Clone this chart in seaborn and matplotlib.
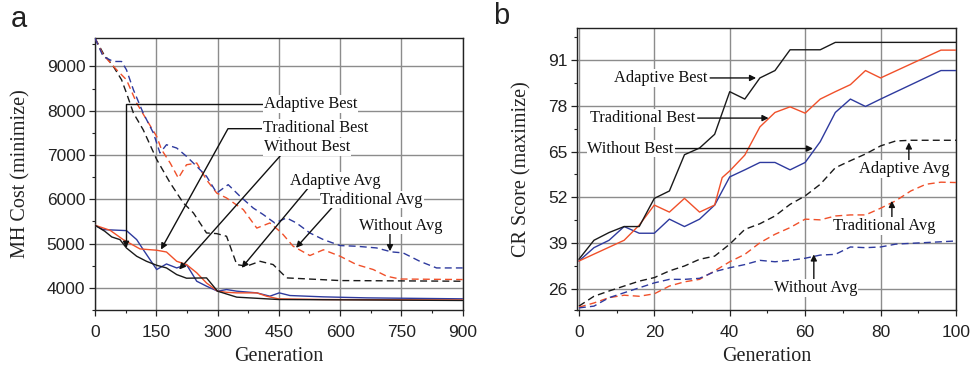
import numpy as np
import pandas as pd
import seaborn as sns
import matplotlib
matplotlib.use("Agg")
import matplotlib.pyplot as plt
from matplotlib.ticker import MultipleLocator, FixedLocator

# ---------------- Panel a data (MH Cost) ----------------
a_ab_gen = [0, 24, 41, 61, 77, 102, 126, 151, 175, 200, 224, 273, 300, 347, 449, 900]
a_ab_val = [5414, 5278, 5150, 5090, 4900, 4714, 4600, 4510, 4450, 4300, 4218, 4225, 3925, 3790, 3737, 3715]

a_tb_gen = [0, 37, 69, 110, 151, 175, 200, 224, 249, 273, 300, 322, 347, 396, 420, 449, 559, 900]
a_tb_val = [5414, 5300, 5090, 4880, 4850, 4810, 4600, 4526, 4340, 4110, 3925, 3900, 3887, 3887, 3812, 3752, 3737, 3725]

a_wb_gen = [0, 20, 77, 102, 118, 151, 175, 200, 224, 249, 273, 300, 322, 347, 396, 428, 451, 477, 559, 665, 900]
a_wb_val = [5414, 5316, 5293, 5090, 4865, 4414, 4540, 4450, 4526, 4150, 4038, 3925, 3962, 3925, 3887, 3812, 3887, 3827, 3797, 3774, 3752]

a_aa_gen = [0, 20, 45, 65, 77, 94, 118, 151, 184, 216, 241, 273, 298, 322, 347, 371, 404, 436, 469, 600, 900]
a_aa_val = [9639, 9300, 9000, 8700, 8400, 7950, 7570, 6900, 6370, 5920, 5690, 5240, 5225, 5165, 4526, 4490, 4600, 4526, 4225, 4165, 4150]

a_ta_gen = [0, 20, 53, 77, 102, 126, 151, 163, 184, 204, 224, 249, 273, 298, 322, 363, 396, 428, 457, 485, 526, 559, 600, 640, 681, 714, 746, 900]
a_ta_val = [9639, 9263, 8925, 8700, 8173, 7800, 7420, 7120, 6820, 6480, 6780, 6820, 6440, 6140, 6030, 5767, 5350, 5466, 5240, 4940, 4730, 4860, 4714, 4526, 4414, 4263, 4200, 4188]

a_wa_gen = [0, 20, 45, 65, 77, 94, 118, 143, 159, 175, 200, 224, 249, 273, 298, 326, 355, 387, 412, 440, 469, 493, 526, 559, 600, 640, 689, 726, 754, 795, 836, 900]
a_wa_val = [9639, 9225, 9113, 9113, 8925, 8474, 7947, 7496, 7045, 7233, 7158, 6970, 6744, 6519, 6143, 6331, 6068, 5805, 5654, 5466, 5579, 5466, 5240, 5090, 4955, 4940, 4902, 4812, 4790, 4600, 4450, 4450]

# ---------------- Panel b data (CR Score) ----------------
b_ab_gen = [0, 4, 8, 12, 16, 20, 24, 28, 32, 36, 40, 44, 48, 52, 56, 60, 64, 68, 100]
b_ab_val = [34.4, 39.8, 42.0, 43.7, 43.7, 51.7, 53.8, 64.1, 66.0, 69.9, 82.0, 79.9, 85.9, 88.0, 93.9, 93.9, 93.9, 96.0, 96.0]

b_tb_gen = [0, 12, 16, 20, 24, 28, 32, 36, 38, 40, 44, 48, 52, 56, 60, 64, 68, 72, 76, 80, 96, 100]
b_tb_val = [33.9, 39.8, 44.1, 49.8, 47.8, 51.7, 47.8, 49.8, 57.6, 59.5, 64.0, 72.0, 76.1, 77.7, 75.9, 79.9, 82.0, 84.0, 88.0, 85.9, 93.8, 93.8]

b_wb_gen = [0, 4, 8, 12, 16, 20, 24, 28, 32, 36, 40, 44, 48, 52, 56, 60, 64, 68, 72, 76, 80, 96, 100]
b_wb_val = [33.9, 37.7, 39.8, 43.7, 41.8, 41.8, 45.8, 43.7, 45.8, 49.8, 57.8, 59.8, 61.9, 61.9, 59.8, 61.9, 67.8, 76.1, 79.9, 77.8, 79.9, 88.0, 88.0]

b_aa_gen = [0, 4, 8, 12, 16, 20, 24, 28, 32, 36, 40, 44, 48, 52, 56, 60, 64, 68, 72, 76, 80, 84, 88, 100]
b_aa_val = [21.1, 23.9, 25.4, 26.8, 28.2, 29.2, 31.1, 32.5, 34.4, 35.3, 38.7, 42.9, 44.5, 46.7, 50.0, 52.4, 55.7, 60.4, 62.4, 64.3, 66.6, 68.0, 68.2, 68.2]

b_ta_gen = [0, 4, 8, 12, 16, 20, 24, 28, 32, 36, 40, 44, 48, 52, 56, 60, 64, 68, 72, 76, 80, 84, 88, 92, 96, 100]
b_ta_val = [20.8, 22.0, 23.5, 24.2, 23.9, 24.6, 26.8, 28.0, 28.7, 31.1, 33.7, 35.8, 39.1, 41.5, 43.4, 45.8, 45.6, 46.7, 47.0, 47.0, 48.9, 51.0, 53.8, 55.7, 56.3, 56.2]

b_wa_gen = [0, 4, 8, 12, 16, 20, 24, 28, 32, 36, 40, 44, 48, 52, 56, 60, 64, 68, 72, 76, 80, 84, 100]
b_wa_val = [20.6, 21.1, 23.5, 24.9, 26.3, 27.7, 28.7, 28.7, 29.0, 30.9, 32.0, 32.9, 34.1, 33.7, 34.1, 34.7, 35.6, 35.8, 37.9, 37.7, 37.9, 38.7, 39.6]

a_xticks = [0, 150, 300, 450, 600, 750, 900]
a_yticks = [4000, 5000, 6000, 7000, 8000, 9000]
b_xticks = [0, 20, 40, 60, 80, 100]
b_yticks = [26, 39, 52, 65, 78, 91]

BLACK = "#1a1a1a"
RED = "#f0502a"
BLUE = "#2e3a9e"

sns.set_theme(style="white")
plt.rcParams["font.family"] = ["Liberation Sans", "DejaVu Sans"]
SERIF = ["Liberation Serif", "DejaVu Serif"]

fig = plt.figure(figsize=(9.74, 3.72), dpi=100)
axa = fig.add_axes([95/974, 1-310/372, (462.7-95)/974, (310-37.7)/372])
axb = fig.add_axes([577/974, 1-310/372, (956-577)/974, (310-28.3)/372])

def draw(ax, gen, val, color, dashed):
    df = pd.DataFrame({"gen": gen, "val": val})
    kw = dict(linestyle=(0, (5, 3))) if dashed else {}
    sns.lineplot(data=df, x="gen", y="val", ax=ax, color=color, lw=1.0,
                 sort=False, estimator=None, zorder=3, **kw)

for g, v, c, d in [(a_aa_gen, a_aa_val, BLACK, True), (a_ta_gen, a_ta_val, RED, True),
                   (a_wa_gen, a_wa_val, BLUE, True), (a_wb_gen, a_wb_val, BLUE, False),
                   (a_tb_gen, a_tb_val, RED, False), (a_ab_gen, a_ab_val, BLACK, False)]:
    draw(axa, g, v, c, d)

for g, v, c, d in [(b_aa_gen, b_aa_val, BLACK, True), (b_ta_gen, b_ta_val, RED, True),
                   (b_wa_gen, b_wa_val, BLUE, True), (b_wb_gen, b_wb_val, BLUE, False),
                   (b_tb_gen, b_tb_val, RED, False), (b_ab_gen, b_ab_val, BLACK, False)]:
    draw(axb, g, v, c, d)

def style(ax, xlim, ylim, xt, yt, xminor, yminor, ylabel):
    ax.set_xlim(*xlim)
    ax.set_ylim(*ylim)
    ax.set_xticks(xt)
    ax.set_yticks(yt)
    ax.xaxis.set_minor_locator(MultipleLocator(xminor))
    ax.yaxis.set_minor_locator(FixedLocator(yminor))
    ax.grid(True, which="major", color="#8c8c8c", lw=1.0, zorder=0)
    ax.set_axisbelow(True)
    for s in ax.spines.values():
        s.set_color("#222222")
        s.set_linewidth(1.0)
    ax.tick_params(which="major", direction="out", length=4, width=0.9, color="#222222",
                   labelsize=12.5, labelcolor="#222222", pad=3, bottom=True, left=True)
    ax.tick_params(axis="x", which="major", pad=6.5)
    ax.tick_params(which="minor", direction="out", length=2.5, width=0.8, color="#222222",
                   bottom=True, left=True)
    ax.set_xlabel("Generation", family=SERIF, fontsize=14.5, color="#222222", labelpad=5)
    ax.set_ylabel(ylabel, family=SERIF, fontsize=14.5, color="#222222", labelpad=12)

style(axa, (0, 900), (3500, 9650), a_xticks, a_yticks, 75,
      [3500, 4500, 5500, 6500, 7500, 8500, 9500], "MH Cost (minimize)")
style(axb, (-0.5, 100), (20, 100), b_xticks, b_yticks, 10,
      [20, 32.5, 45.5, 58.5, 71.5, 84.5, 97.5], "CR Score (maximize)")

TXT = dict(family=SERIF, fontsize=11.8, color="#111111", ha="center", va="center", zorder=6,
           bbox=dict(boxstyle="square,pad=0.05", fc="white", ec="none"))

def arrow(ax, start, tip, conn="arc3,rad=0"):
    ax.annotate("", xy=tip, xytext=start, zorder=5,
                arrowprops=dict(arrowstyle="-|>", color="#111111", lw=1.0,
                                shrinkA=0, shrinkB=0, mutation_scale=9,
                                connectionstyle=conn))

# Panel a annotations
axa.text(528, 8152, "Adaptive Best", **TXT)
arrow(axa, (416, 8152), (76, 4904), "angle,angleA=0,angleB=90,rad=0")
axa.text(540, 7610, "Traditional Best", **TXT)
arrow(axa, (413, 7595), (161.5, 4865), "angle,angleA=0,angleB=61,rad=0")
axa.text(520, 7182, "Without Best", **TXT)
arrow(axa, (461, 7060), (206, 4414))
axa.text(587, 6422, "Adaptive Avg", **TXT)
arrow(axa, (522, 6257), (359, 4452))
axa.text(677, 5993, "Traditional Avg", **TXT)
arrow(axa, (583, 5842), (492, 4904))
axa.text(748, 5406, "Without Avg", **TXT)
arrow(axa, (722, 5242), (722, 4827))

# Panel b annotations
axb.text(21.8, 85.9, "Adaptive Best", **TXT)
arrow(axb, (34.8, 85.9), (47, 85.9))
axb.text(16.8, 74.5, "Traditional Best", **TXT)
arrow(axb, (31.5, 74.5), (50.3, 74.5))
axb.text(13.7, 65.85, "Without Best", **TXT)
arrow(axb, (25.6, 65.85), (62.1, 65.85))
axb.text(86.2, 60.0, "Adaptive Avg", **TXT)
arrow(axb, (87.5, 61.9), (87.5, 67.6))
axb.text(81.1, 43.9, "Traditional Avg", **TXT)
arrow(axb, (83.0, 46.1), (83.0, 51.0))
axb.text(62.7, 26.3, "Without Avg", **TXT)
arrow(axb, (62.3, 28.3), (62.3, 35.8))

fig.text(11/974, 1-19/372, "a", fontsize=21, color="#222222", va="center", ha="left")
fig.text(493/974, 1-16/372, "b", fontsize=21, color="#222222", va="center", ha="left")

fig.savefig("out.png", dpi=100)
